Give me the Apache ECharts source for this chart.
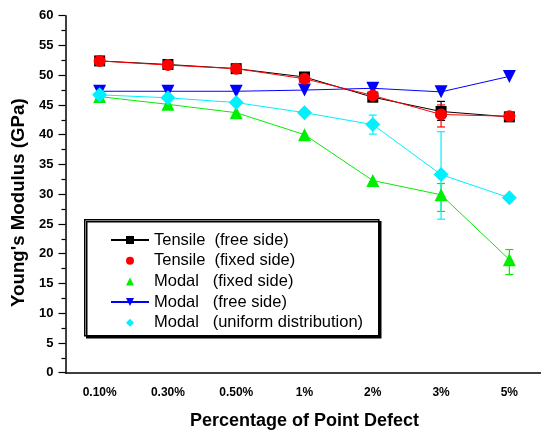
<!DOCTYPE html>
<html><head><meta charset="utf-8">
<script src="https://cdn.jsdelivr.net/npm/echarts@6/dist/echarts.min.js"></script>
<style>html,body{margin:0;padding:0;background:#fff}#c{width:541px;height:430px}</style>
</head><body><div id="c"></div>
<script>
const categories = ['0.10%', '0.30%', '0.50%', '1%', '2%', '3%', '5%'];
const tensileFree = [52.4, 51.8, 51.1, 49.7, 46.3, 43.9, 43.0];
const tensileFixed = [52.4, 51.7, 51.1, 49.4, 46.6, 43.4, 43.1];
const modalFixed = [46.4, 45.1, 43.7, 40.0, 32.3, 29.9, 19.0];
const modalFree = [47.3, 47.3, 47.3, 47.5, 47.8, 47.2, 49.8];
const modalUniform = [46.7, 46.2, 45.4, 43.7, 41.7, 33.3, 29.4];
// error bars: [category index, low, high]
const tensileFreeErr = [[5, 42.4, 45.6]];
const tensileFixedErr = [[5, 41.3, 45.0]];
const modalFixedErr = [[5, 27.1, 31.8], [6, 16.5, 20.7]];
const modalUniformErr = [[4, 40.1, 43.3], [5, 25.8, 40.5]];
const yTicks = {min: 0, max: 60, interval: 5};

const names = ['Tensile  (free side)', 'Tensile  (fixed side)', 'Modal   (fixed side)', 'Modal   (free side)', 'Modal   (uniform distribution)'];

function errSeries(data, color) {
  return {
    type: 'custom', data: data, z: 1, silent: true,
    renderItem: function (params, api) {
      const lo = api.coord([api.value(0), api.value(1)]);
      const hi = api.coord([api.value(0), api.value(2)]);
      const w = 4;
      const st = {stroke: color, lineWidth: 1.2};
      return {type: 'group', children: [
        {type: 'line', shape: {x1: lo[0], y1: lo[1], x2: hi[0], y2: hi[1]}, style: st},
        {type: 'line', shape: {x1: lo[0]-w, y1: lo[1], x2: lo[0]+w, y2: lo[1]}, style: st},
        {type: 'line', shape: {x1: hi[0]-w, y1: hi[1], x2: hi[0]+w, y2: hi[1]}, style: st}
      ]};
    }
  };
}

const chart = echarts.init(document.getElementById('c'));
const font = 'Liberation Sans, Arial, sans-serif';
const noLine = {opacity: 0};
chart.setOption({
  animation: false,
  textStyle: {fontFamily: font},
  grid: {left: 65.5, top: 15.7, width: 478, height: 357, containLabel: false, outerBoundsMode: 'none'},
  xAxis: [{
    type: 'category', data: categories, boundaryGap: true,
    axisLine: {lineStyle: {color: '#000', width: 1.5}},
    axisTick: {alignWithLabel: true, length: 5, lineStyle: {color: '#000', width: 1.2}},
    axisLabel: {color: '#000', fontWeight: 'bold', fontSize: 12, margin: 14, interval: 0, fontFamily: font},
    name: 'Percentage of Point Defect', nameLocation: 'middle', nameGap: 39,
    nameTextStyle: {color: '#000', fontWeight: 'bold', fontSize: 18, fontFamily: font},
    splitLine: {show: false}
  }, {
    type: 'category', data: categories, boundaryGap: true, position: 'bottom',
    axisLine: {show: false},
    axisTick: {length: 4, lineStyle: {color: '#000', width: 1.2}},
    axisLabel: {show: false}, splitLine: {show: false}
  }],
  yAxis: {
    type: 'value', min: yTicks.min, max: yTicks.max, interval: yTicks.interval,
    axisLine: {show: true, lineStyle: {color: '#000', width: 1.5}},
    axisTick: {show: true, length: 7, lineStyle: {color: '#000', width: 1.2}},
    minorTick: {show: true, splitNumber: 2, length: 4, lineStyle: {color: '#000', width: 1.2}},
    axisLabel: {color: '#000', fontWeight: 'bold', fontSize: 13, margin: 12, fontFamily: font},
    splitLine: {show: false},
    name: "Young's Modulus (GPa)", nameLocation: 'middle', nameGap: 37,
    nameTextStyle: {color: '#000', fontWeight: 'bold', fontSize: 18.7, fontFamily: font, padding: [0, 17, 0, 0]}
  },
  legend: {
    orient: 'vertical', left: 105, top: 226.5, itemWidth: 38, itemHeight: 10, itemGap: 3.7,
    z: 5,
    textStyle: {color: '#000', fontSize: 16.5, lineHeight: 17, fontFamily: font},
    data: [
      {name: names[0]},
      {name: names[1], lineStyle: noLine},
      {name: names[2], lineStyle: noLine},
      {name: names[3]},
      {name: names[4], lineStyle: noLine}
    ]
  },
  graphic: [{
    type: 'rect', z: 4, left: 84, top: 219,
    shape: {width: 294, height: 116},
    style: {fill: '#fff', stroke: '#000', lineWidth: 1.5, shadowColor: '#000', shadowOffsetX: 2, shadowOffsetY: 2, shadowBlur: 0}
  }],
  series: [
    errSeries(tensileFreeErr, '#000'),
    errSeries(tensileFixedErr, '#ff0000'),
    errSeries(modalFixedErr, '#00ee00'),
    errSeries(modalUniformErr, '#00f0ff'),
    {name: names[0], type: 'line', data: tensileFree, symbol: 'rect', symbolSize: 11,
     itemStyle: {color: '#000'}, lineStyle: {color: '#000', width: 1}, z: 3},
    {name: names[1], type: 'line', data: tensileFixed, symbol: 'circle', symbolSize: 12,
     itemStyle: {color: '#ff0000'}, lineStyle: {color: '#ff0000', width: 1}, z: 4},
    {name: names[2], type: 'line', data: modalFixed, symbol: 'triangle', symbolSize: 13,
     itemStyle: {color: '#00ee00'}, lineStyle: {color: '#00ee00', width: 1}, z: 3},
    {name: names[3], type: 'line', data: modalFree, symbol: 'triangle', symbolRotate: 180, symbolSize: 13,
     itemStyle: {color: '#0000ff'}, lineStyle: {color: '#0000ff', width: 1}, z: 3},
    {name: names[4], type: 'line', data: modalUniform, symbol: 'diamond', symbolSize: 15,
     itemStyle: {color: '#00f0ff'}, lineStyle: {color: '#00f0ff', width: 1}, z: 3}
  ]
});
</script></body></html>
